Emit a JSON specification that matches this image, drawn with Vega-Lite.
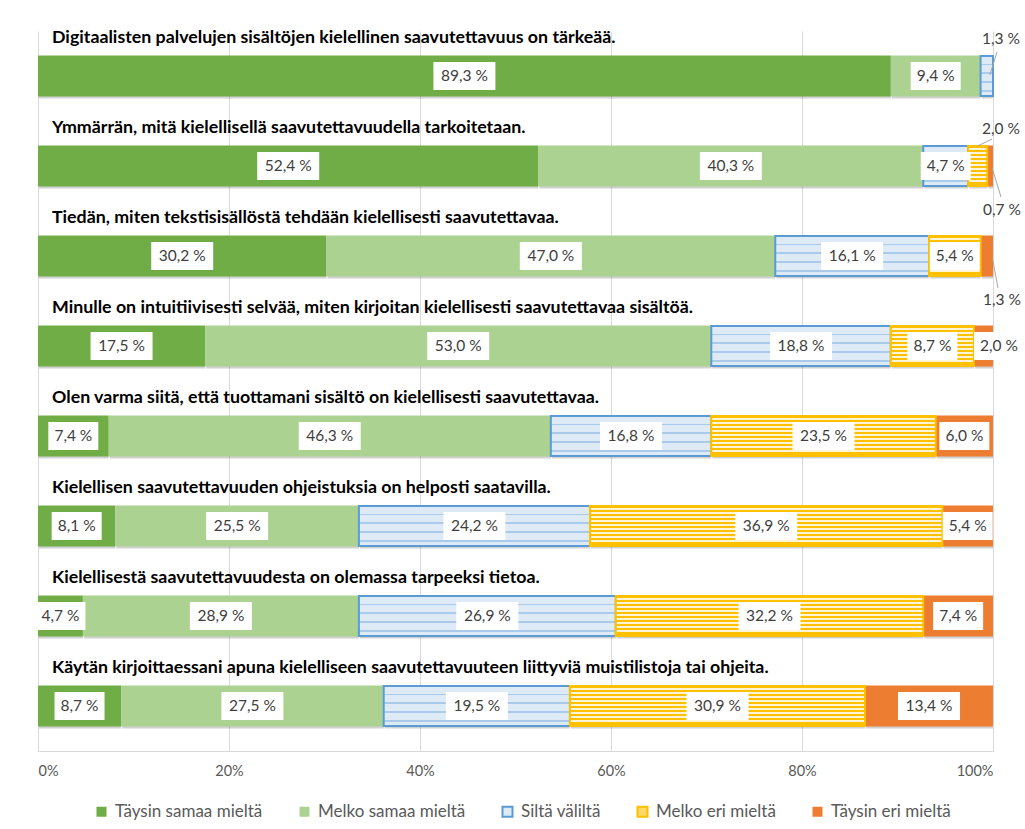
{
  "$schema": "https://vega.github.io/schema/vega-lite/v6.json",
  "width": 955,
  "height": 720,
  "autosize": {"type": "none"},
  "padding": {"left": 38, "top": 31, "right": 32, "bottom": 78},
  "background": "white",
  "config": {
    "font": "Lato",
    "view": {"stroke": null},
    "text": {"font": "Lato"}
  },
  "data": {
    "values": [
      {"q": "Digitaalisten palvelujen sisältöjen kielellinen saavutettavuus on tärkeää.", "s": "Täysin samaa mieltä", "v": 89.3},
      {"q": "Digitaalisten palvelujen sisältöjen kielellinen saavutettavuus on tärkeää.", "s": "Melko samaa mieltä", "v": 9.4},
      {"q": "Digitaalisten palvelujen sisältöjen kielellinen saavutettavuus on tärkeää.", "s": "Siltä väliltä", "v": 1.3},
      {"q": "Ymmärrän, mitä kielellisellä saavutettavuudella tarkoitetaan.", "s": "Täysin samaa mieltä", "v": 52.4},
      {"q": "Ymmärrän, mitä kielellisellä saavutettavuudella tarkoitetaan.", "s": "Melko samaa mieltä", "v": 40.3},
      {"q": "Ymmärrän, mitä kielellisellä saavutettavuudella tarkoitetaan.", "s": "Siltä väliltä", "v": 4.7},
      {"q": "Ymmärrän, mitä kielellisellä saavutettavuudella tarkoitetaan.", "s": "Melko eri mieltä", "v": 2.0},
      {"q": "Ymmärrän, mitä kielellisellä saavutettavuudella tarkoitetaan.", "s": "Täysin eri mieltä", "v": 0.7},
      {"q": "Tiedän, miten tekstisisällöstä tehdään kielellisesti saavutettavaa.", "s": "Täysin samaa mieltä", "v": 30.2},
      {"q": "Tiedän, miten tekstisisällöstä tehdään kielellisesti saavutettavaa.", "s": "Melko samaa mieltä", "v": 47.0},
      {"q": "Tiedän, miten tekstisisällöstä tehdään kielellisesti saavutettavaa.", "s": "Siltä väliltä", "v": 16.1},
      {"q": "Tiedän, miten tekstisisällöstä tehdään kielellisesti saavutettavaa.", "s": "Melko eri mieltä", "v": 5.4},
      {"q": "Tiedän, miten tekstisisällöstä tehdään kielellisesti saavutettavaa.", "s": "Täysin eri mieltä", "v": 1.3},
      {"q": "Minulle on intuitiivisesti selvää, miten kirjoitan kielellisesti saavutettavaa sisältöä.", "s": "Täysin samaa mieltä", "v": 17.5},
      {"q": "Minulle on intuitiivisesti selvää, miten kirjoitan kielellisesti saavutettavaa sisältöä.", "s": "Melko samaa mieltä", "v": 53.0},
      {"q": "Minulle on intuitiivisesti selvää, miten kirjoitan kielellisesti saavutettavaa sisältöä.", "s": "Siltä väliltä", "v": 18.8},
      {"q": "Minulle on intuitiivisesti selvää, miten kirjoitan kielellisesti saavutettavaa sisältöä.", "s": "Melko eri mieltä", "v": 8.7},
      {"q": "Minulle on intuitiivisesti selvää, miten kirjoitan kielellisesti saavutettavaa sisältöä.", "s": "Täysin eri mieltä", "v": 2.0},
      {"q": "Olen varma siitä, että tuottamani sisältö on kielellisesti saavutettavaa.", "s": "Täysin samaa mieltä", "v": 7.4},
      {"q": "Olen varma siitä, että tuottamani sisältö on kielellisesti saavutettavaa.", "s": "Melko samaa mieltä", "v": 46.3},
      {"q": "Olen varma siitä, että tuottamani sisältö on kielellisesti saavutettavaa.", "s": "Siltä väliltä", "v": 16.8},
      {"q": "Olen varma siitä, että tuottamani sisältö on kielellisesti saavutettavaa.", "s": "Melko eri mieltä", "v": 23.5},
      {"q": "Olen varma siitä, että tuottamani sisältö on kielellisesti saavutettavaa.", "s": "Täysin eri mieltä", "v": 6.0},
      {"q": "Kielellisen saavutettavuuden ohjeistuksia on helposti saatavilla.", "s": "Täysin samaa mieltä", "v": 8.1},
      {"q": "Kielellisen saavutettavuuden ohjeistuksia on helposti saatavilla.", "s": "Melko samaa mieltä", "v": 25.5},
      {"q": "Kielellisen saavutettavuuden ohjeistuksia on helposti saatavilla.", "s": "Siltä väliltä", "v": 24.2},
      {"q": "Kielellisen saavutettavuuden ohjeistuksia on helposti saatavilla.", "s": "Melko eri mieltä", "v": 36.9},
      {"q": "Kielellisen saavutettavuuden ohjeistuksia on helposti saatavilla.", "s": "Täysin eri mieltä", "v": 5.4},
      {"q": "Kielellisestä saavutettavuudesta on olemassa tarpeeksi tietoa.", "s": "Täysin samaa mieltä", "v": 4.7},
      {"q": "Kielellisestä saavutettavuudesta on olemassa tarpeeksi tietoa.", "s": "Melko samaa mieltä", "v": 28.9},
      {"q": "Kielellisestä saavutettavuudesta on olemassa tarpeeksi tietoa.", "s": "Siltä väliltä", "v": 26.9},
      {"q": "Kielellisestä saavutettavuudesta on olemassa tarpeeksi tietoa.", "s": "Melko eri mieltä", "v": 32.2},
      {"q": "Kielellisestä saavutettavuudesta on olemassa tarpeeksi tietoa.", "s": "Täysin eri mieltä", "v": 7.4},
      {"q": "Käytän kirjoittaessani apuna kielelliseen saavutettavuuteen liittyviä muistilistoja tai ohjeita.", "s": "Täysin samaa mieltä", "v": 8.7},
      {"q": "Käytän kirjoittaessani apuna kielelliseen saavutettavuuteen liittyviä muistilistoja tai ohjeita.", "s": "Melko samaa mieltä", "v": 27.5},
      {"q": "Käytän kirjoittaessani apuna kielelliseen saavutettavuuteen liittyviä muistilistoja tai ohjeita.", "s": "Siltä väliltä", "v": 19.5},
      {"q": "Käytän kirjoittaessani apuna kielelliseen saavutettavuuteen liittyviä muistilistoja tai ohjeita.", "s": "Melko eri mieltä", "v": 30.9},
      {"q": "Käytän kirjoittaessani apuna kielelliseen saavutettavuuteen liittyviä muistilistoja tai ohjeita.", "s": "Täysin eri mieltä", "v": 13.4}
    ]
  },
  "transform": [
    {"calculate": "indexof(['Täysin samaa mieltä','Melko samaa mieltä','Siltä väliltä','Melko eri mieltä','Täysin eri mieltä'], datum.s)", "as": "k"},
    {"stack": "v", "groupby": ["q"], "sort": [{"field": "k", "order": "ascending"}], "as": ["x0", "x1"]},
    {"calculate": "(datum.x0 + min(datum.x1, 100)) / 2", "as": "mid"},
    {"calculate": "replace(format(datum.v, '.1f'), '.', ',') + ' %'", "as": "label"},
    {"calculate": "'L' + length(datum.label)", "as": "len"}
  ],
  "encoding": {
    "y": {"field": "q", "type": "nominal", "sort": null, "axis": null, "scale": {"paddingInner": 0, "paddingOuter": 0}}
  },
  "layer": [
    {
      "mark": {"type": "bar", "size": 41, "color": "#000000", "opacity": 0.18, "yOffset": 2, "xOffset": 1},
      "encoding": {
        "x": {
          "field": "x0", "type": "quantitative",
          "scale": {"domain": [0, 100], "clamp": true, "nice": false, "zero": true},
          "axis": {
            "values": [0, 20, 40, 60, 80, 100],
            "labelExpr": "datum.value + '%'",
            "grid": true, "gridColor": "#D9D9D9", "gridWidth": 1,
            "domainColor": "#D9D9D9", "ticks": false,
            "labelColor": "#595959", "labelFontSize": 14.5, "labelPadding": 13,
            "labelFont": "Lato", "title": null
          }
        },
        "x2": {"field": "x1"}
      }
    },
    {
      "mark": {"type": "bar", "size": 41},
      "encoding": {
        "x": {"field": "x0", "type": "quantitative"},
        "x2": {"field": "x1"},
        "color": {
          "field": "s", "type": "nominal",
          "scale": {
            "domain": ["Täysin samaa mieltä", "Melko samaa mieltä", "Siltä väliltä", "Melko eri mieltä", "Täysin eri mieltä"],
            "range": ["#70AD47", "#ACD291", "#DEEBF7", "#FFD966", "#ED7D31"]
          },
          "legend": {
            "title": null, "orient": "none", "legendX": 55, "legendY": 772,
            "direction": "horizontal", "symbolType": "square", "symbolSize": 100,
            "labelFontSize": 17, "labelColor": "#595959", "labelFont": "Lato",
            "columnPadding": 32, "labelOffset": 5, "padding": 0,
            "encode": {
              "symbols": {
                "update": {
                  "stroke": {"signal": "datum.value === 'Siltä väliltä' ? '#5B9BD5' : datum.value === 'Melko eri mieltä' ? '#FFC000' : 'transparent'"},
                  "strokeWidth": {"value": 2}
                }
              }
            }
          }
        }
      }
    },
    {
      "transform": [{"filter": "datum.s === 'Siltä väliltä'"}],
      "mark": {
        "type": "bar", "size": 40, "stroke": "#5B9BD5", "strokeWidth": 2,
        "fill": {
          "gradient": "linear", "x1": 0, "y1": 0, "x2": 0, "y2": 1,
          "stops": [
            {"offset": 0, "color": "#DEEBF7"}, {"offset": 0.19, "color": "#DEEBF7"},
            {"offset": 0.19, "color": "#A9CAEB"}, {"offset": 0.23, "color": "#A9CAEB"},
            {"offset": 0.23, "color": "#DEEBF7"}, {"offset": 0.41, "color": "#DEEBF7"},
            {"offset": 0.41, "color": "#A9CAEB"}, {"offset": 0.45, "color": "#A9CAEB"},
            {"offset": 0.45, "color": "#DEEBF7"}, {"offset": 0.63, "color": "#DEEBF7"},
            {"offset": 0.63, "color": "#A9CAEB"}, {"offset": 0.67, "color": "#A9CAEB"},
            {"offset": 0.67, "color": "#DEEBF7"}, {"offset": 0.85, "color": "#DEEBF7"},
            {"offset": 0.85, "color": "#A9CAEB"}, {"offset": 0.89, "color": "#A9CAEB"},
            {"offset": 0.89, "color": "#DEEBF7"}, {"offset": 1, "color": "#DEEBF7"}
          ]
        }
      },
      "encoding": {
        "x": {"field": "x0", "type": "quantitative"},
        "x2": {"field": "x1"}
      }
    },
    {
      "transform": [{"filter": "datum.s === 'Melko eri mieltä'"}],
      "mark": {
        "type": "bar", "size": 40, "stroke": "#FFC000", "strokeWidth": 2,
        "fill": {
          "gradient": "linear", "x1": 0, "y1": 0, "x2": 0, "y2": 1,
          "stops": [
            {"offset": 0, "color": "#FFC000"}, {"offset": 0.055, "color": "#FFC000"},
            {"offset": 0.055, "color": "#FFF4D6"}, {"offset": 0.1, "color": "#FFF4D6"},
            {"offset": 0.1, "color": "#FFC000"}, {"offset": 0.155, "color": "#FFC000"},
            {"offset": 0.155, "color": "#FFF4D6"}, {"offset": 0.2, "color": "#FFF4D6"},
            {"offset": 0.2, "color": "#FFC000"}, {"offset": 0.255, "color": "#FFC000"},
            {"offset": 0.255, "color": "#FFF4D6"}, {"offset": 0.3, "color": "#FFF4D6"},
            {"offset": 0.3, "color": "#FFC000"}, {"offset": 0.355, "color": "#FFC000"},
            {"offset": 0.355, "color": "#FFF4D6"}, {"offset": 0.4, "color": "#FFF4D6"},
            {"offset": 0.4, "color": "#FFC000"}, {"offset": 0.455, "color": "#FFC000"},
            {"offset": 0.455, "color": "#FFF4D6"}, {"offset": 0.5, "color": "#FFF4D6"},
            {"offset": 0.5, "color": "#FFC000"}, {"offset": 0.555, "color": "#FFC000"},
            {"offset": 0.555, "color": "#FFF4D6"}, {"offset": 0.6, "color": "#FFF4D6"},
            {"offset": 0.6, "color": "#FFC000"}, {"offset": 0.655, "color": "#FFC000"},
            {"offset": 0.655, "color": "#FFF4D6"}, {"offset": 0.7, "color": "#FFF4D6"},
            {"offset": 0.7, "color": "#FFC000"}, {"offset": 0.755, "color": "#FFC000"},
            {"offset": 0.755, "color": "#FFF4D6"}, {"offset": 0.8, "color": "#FFF4D6"},
            {"offset": 0.8, "color": "#FFC000"}, {"offset": 0.855, "color": "#FFC000"},
            {"offset": 0.855, "color": "#FFF4D6"}, {"offset": 0.9, "color": "#FFF4D6"},
            {"offset": 0.9, "color": "#FFC000"}, {"offset": 1, "color": "#FFC000"}
          ]
        }
      },
      "encoding": {
        "x": {"field": "x0", "type": "quantitative"},
        "x2": {"field": "x1"}
      }
    },
    {
      "transform": [{"filter": "datum.v >= 2.5"}],
      "mark": {"type": "point", "filled": true, "color": "white", "opacity": 1, "strokeWidth": 0},
      "encoding": {
        "x": {"field": "mid", "type": "quantitative"},
        "shape": {"field": "len", "type": "nominal", "scale": {"domain": ["L5", "L6"], "range": ["M-1,-0.56H1V0.56H-1Z", "M-1,-0.4516H1V0.4516H-1Z"]}, "legend": null},
        "size": {"field": "len", "type": "ordinal", "scale": {"domain": ["L5", "L6"], "range": [2500, 3844]}, "legend": null}
      }
    },
    {
      "transform": [{"filter": "datum.v >= 2.5"}],
      "mark": {"type": "text", "fontSize": 15.5, "color": "#404040", "align": "center", "baseline": "middle"},
      "encoding": {
        "x": {"field": "mid", "type": "quantitative"},
        "text": {"field": "label"}
      }
    },
    {
      "transform": [{"filter": "datum.s === 'Täysin eri mieltä' && datum.v == 2"}],
      "mark": {"type": "point", "filled": true, "color": "white", "opacity": 1, "strokeWidth": 0, "shape": "M-1,-0.56H1V0.56H-1Z", "size": 2500, "xOffset": 6},
      "encoding": {
        "x": {"datum": 100, "type": "quantitative"}
      }
    },
    {
      "transform": [{"filter": "datum.s === 'Täysin eri mieltä' && datum.v == 2"}],
      "mark": {"type": "text", "fontSize": 15.5, "color": "#404040", "align": "center", "baseline": "middle", "dx": 6},
      "encoding": {
        "x": {"datum": 100, "type": "quantitative"},
        "text": {"field": "label"}
      }
    },
    {
      "transform": [{"filter": "datum.v < 2.5 && datum.s !== 'Täysin eri mieltä'"}],
      "mark": {"type": "text", "fontSize": 15.5, "color": "#404040", "align": "center", "baseline": "middle", "dx": 8, "dy": -37},
      "encoding": {
        "x": {"datum": 100, "type": "quantitative"},
        "text": {"field": "label"}
      }
    },
    {
      "transform": [{"filter": "datum.v < 1.5 && datum.s === 'Täysin eri mieltä'"}],
      "mark": {"type": "text", "fontSize": 15.5, "color": "#404040", "align": "center", "baseline": "middle", "dx": 9, "dy": 44},
      "encoding": {
        "x": {"datum": 100, "type": "quantitative"},
        "text": {"field": "label"}
      }
    },
    {
      "transform": [{"filter": "datum.s === 'Siltä väliltä' && datum.v < 2.5"}],
      "mark": {"type": "rule", "color": "#A6A6A6", "strokeWidth": 1, "xOffset": 3, "yOffset": -1, "x2Offset": 4, "y2Offset": -24},
      "encoding": {
        "x": {"field": "mid", "type": "quantitative"},
        "x2": {"datum": 100},
        "y": {"field": "q", "type": "nominal", "sort": null, "bandPosition": 0.5},
        "y2": {"field": "q", "bandPosition": 0.5}
      }
    },
    {
      "transform": [{"filter": "datum.s === 'Melko eri mieltä' && datum.v < 2.5"}],
      "mark": {"type": "rule", "color": "#A6A6A6", "strokeWidth": 1, "xOffset": 0, "yOffset": -20, "x2Offset": -1, "y2Offset": -27},
      "encoding": {
        "x": {"field": "mid", "type": "quantitative"},
        "x2": {"datum": 100},
        "y": {"field": "q", "type": "nominal", "sort": null, "bandPosition": 0.5},
        "y2": {"field": "q", "bandPosition": 0.5}
      }
    },
    {
      "transform": [{"filter": "datum.s === 'Täysin eri mieltä' && datum.v < 1"}],
      "mark": {"type": "rule", "color": "#A6A6A6", "strokeWidth": 1, "xOffset": 2, "yOffset": 2, "x2Offset": 8, "y2Offset": 31},
      "encoding": {
        "x": {"field": "mid", "type": "quantitative"},
        "x2": {"datum": 100},
        "y": {"field": "q", "type": "nominal", "sort": null, "bandPosition": 0.5},
        "y2": {"field": "q", "bandPosition": 0.5}
      }
    },
    {
      "transform": [{"filter": "datum.s === 'Täysin eri mieltä' && datum.v > 1 && datum.v < 1.5"}],
      "mark": {"type": "rule", "color": "#A6A6A6", "strokeWidth": 1, "xOffset": 6, "yOffset": 4, "x2Offset": 5, "y2Offset": 32},
      "encoding": {
        "x": {"field": "mid", "type": "quantitative"},
        "x2": {"datum": 100},
        "y": {"field": "q", "type": "nominal", "sort": null, "bandPosition": 0.5},
        "y2": {"field": "q", "bandPosition": 0.5}
      }
    },
    {
      "transform": [{"filter": "datum.k === 0"}],
      "mark": {"type": "text", "align": "left", "baseline": "middle", "dx": 14, "dy": 7, "fontWeight": "bold", "fontSize": 17.8, "color": "#000000"},
      "encoding": {
        "x": {"datum": 0, "type": "quantitative"},
        "y": {"field": "q", "type": "nominal", "sort": null, "bandPosition": 0},
        "text": {"field": "q"}
      }
    }
  ]
}
